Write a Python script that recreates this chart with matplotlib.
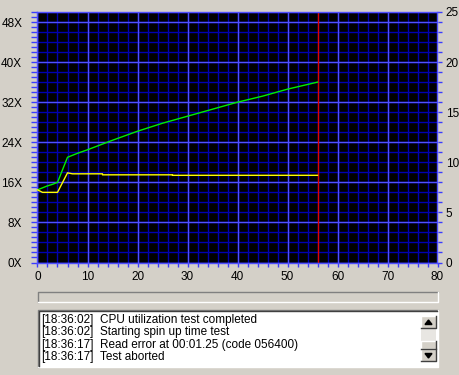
import numpy as np
import matplotlib
matplotlib.use("Agg")
import matplotlib.pyplot as plt
from matplotlib.patches import Rectangle

plt.rcParams['font.family'] = ['Liberation Sans', 'DejaVu Sans']

# transfer rate (green) and spin speed (yellow), in X
read_pos = [0, 1, 2, 3, 4, 5, 6, 8, 10, 15, 20, 25, 30, 35, 40, 45, 50, 56]
read_speed = [14.5, 14.9, 15.3, 15.6, 16.0, 18.5, 21.0, 21.8, 22.5, 24.4,
              26.2, 27.8, 29.2, 30.6, 32.0, 33.2, 34.6, 36.0]
spin_pos = [0, 1, 4, 6, 7, 13, 13, 27, 27, 56]
spin_speed = [14.5, 14.0, 14.0, 17.9, 17.7, 17.7, 17.5, 17.5, 17.4, 17.4]
abort_pos = 56

left_ticks = np.arange(0, 49, 8)
left_labels = ['%dX' % v for v in left_ticks]
bottom_ticks = np.arange(0, 81, 10)
right_ticks = np.arange(0, 26, 5)

log_times = ['[18:36:02]', '[18:36:02]', '[18:36:17]', '[18:36:17]']
log_msgs = ['CPU utilization test completed', 'Starting spin up time test',
            'Read error at 00:01.25 (code 056400)', 'Test aborted']

W, H = 460, 375
BG = '#D4D0C8'
MINOR = '#0000B0'
MAJOR = '#5050FF'
TICK = '#3C3CFF'

fig = plt.figure(figsize=(W / 100, H / 100), dpi=100, facecolor=BG)

# chart area in pixels
px0, px1, py0, py1 = 37.5, 437.5, 12, 262.5
ax = fig.add_axes([px0 / W, 1 - py1 / H, (px1 - px0) / W, (py1 - py0) / H])
ax.set_facecolor('black')
ax.set_xlim(0, 80)
ax.set_ylim(0, 50)

ax.vlines(np.arange(0, 81, 2), 0, 50, color=MINOR, lw=1, zorder=1)
ax.hlines(np.arange(0, 51, 2), 0, 80, color=MINOR, lw=1, zorder=1)
ax.vlines(np.arange(0, 81, 10), 0, 50, color=MAJOR, lw=1, zorder=1.5)
ax.hlines(left_ticks, 0, 80, color=MAJOR, lw=1, zorder=1.5)

ax.plot(read_pos, read_speed, color='#00F000', lw=1.0, zorder=3)
ax.plot(spin_pos, spin_speed, color='#FFFF00', lw=1.0, zorder=3)
ax.axvline(abort_pos, color='#E00000', lw=1, zorder=2.5)

ax.set_xticks(bottom_ticks)
ax.set_xticks(np.arange(0, 81, 2), minor=True)
ax.set_yticks(left_ticks)
ax.set_yticklabels(left_labels)
ax.set_yticks(np.arange(0, 51, 1), minor=True)
ax.tick_params(axis='y', which='both', length=4, width=1, color=TICK,
               pad=7, labelsize=8.5)
ax.tick_params(axis='x', which='both', length=3, width=1, color=TICK,
               pad=3, labelsize=8.5)
for s in ax.spines.values():
    s.set_color(MAJOR)
    s.set_linewidth(1)

ax2 = ax.twinx()
ax2.set_ylim(0, 25)
ax2.set_yticks(right_ticks)
ax2.set_yticks(np.arange(0, 26, 1), minor=True)
ax2.tick_params(axis='y', which='both', length=3, width=1, color=TICK,
                pad=3, labelsize=8.5)
for s in ax2.spines.values():
    s.set_visible(False)

# window widgets drawn in pixel coordinates
ui = fig.add_axes([0, 0, 1, 1], zorder=-1)
ui.set_xlim(0, W)
ui.set_ylim(H, 0)
ui.axis('off')
ui.patch.set_alpha(0)

def box(x, y, w, h, face, top='#808080', bot='white'):
    ui.add_patch(Rectangle((x, y), w, h, facecolor=face, edgecolor='none'))
    ui.plot([x, x, x + w], [y + h, y, y], color=top, lw=1)
    ui.plot([x, x + w, x + w], [y + h, y + h, y], color=bot, lw=1)

# progress bar
box(38, 292, 400, 10, BG)
# log list
box(38, 310, 400, 57, 'white')
ui.plot([39, 39, 437], [366, 311, 311], color='#404040', lw=1)
for i, (t, m) in enumerate(zip(log_times, log_msgs)):
    y = 319.5 + i * 12.6
    ui.text(41, y, t, fontsize=8.5, va='center', ha='left')
    ui.text(100, y, m, fontsize=8.5, va='center', ha='left')

# scrollbar
ui.add_patch(Rectangle((421, 328), 15, 21, facecolor='#E8E6E2', edgecolor='none',
                       hatch='....', linewidth=0))
for y0 in (316, 349):
    box(421, y0, 15, 12, BG, top='white', bot='#404040')
box(421, 341, 15, 8, BG, top='white', bot='#404040')
ui.fill([425, 428.5, 432], [324.5, 320, 324.5], color='black')
ui.fill([425, 428.5, 432], [353.5, 358, 353.5], color='black')

fig.savefig('out.png', dpi=100, facecolor=BG)
